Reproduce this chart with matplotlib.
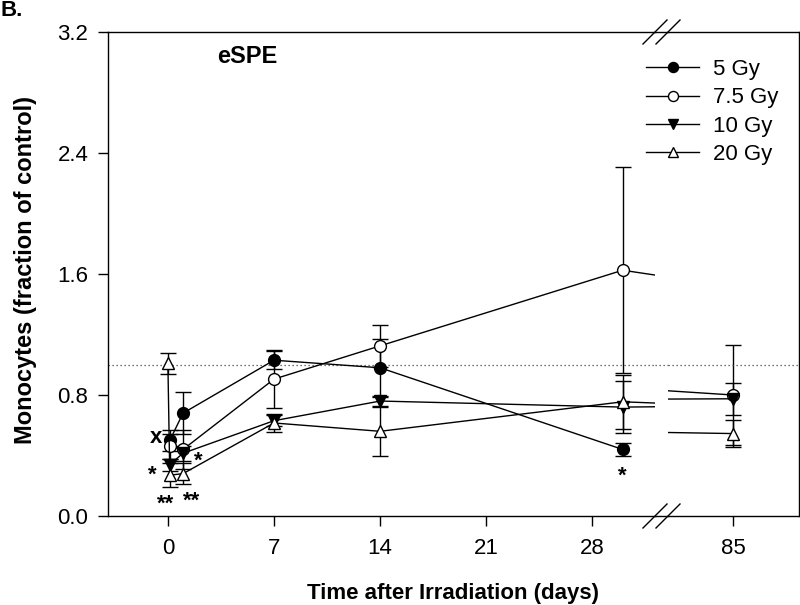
import numpy as np
import matplotlib
matplotlib.use("Agg")
import matplotlib.pyplot as plt
from matplotlib.lines import Line2D

plt.rcParams['font.family'] = ['Liberation Sans', 'DejaVu Sans']

# ---- data ----
days = [0, 0.125, 1, 7, 14, 30, 85]
gy5 = [np.nan, 0.50, 0.68, 1.03, 0.98, 0.44, np.nan]
gy5_err = [np.nan, 0.07, 0.14, 0.058, 0.19, 0.04, np.nan]
gy75 = [np.nan, 0.46, 0.44, 0.905, 1.125, 1.625, 0.80]
gy75_err = [np.nan, 0.08, 0.13, 0.19, 0.14, 0.68, 0.33]
gy10 = [np.nan, 0.34, 0.415, 0.63, 0.76, 0.72, 0.775]
gy10_err = [np.nan, 0.04, 0.05, 0.035, 0.035, 0.17, 0.105]
gy20 = [1.01, 0.27, 0.28, 0.615, 0.56, 0.755, 0.545]
gy20_err = [0.07, 0.08, 0.07, 0.06, 0.16, 0.18, 0.09]

labels = ['5 Gy', '7.5 Gy', '10 Gy', '20 Gy']
xticks_left = [0, 7, 14, 21, 28]
xticks_right = [85]
yticks = [0.0, 0.8, 1.6, 2.4, 3.2]
control_level = 1.0

# annotations: (text, day, value)
annotations = [('x', -0.81, 0.522), ('*', -1.0, 0.27), ('**', -0.15, 0.075),
               ('**', 1.56, 0.10), ('*', 2.0, 0.363), ('*', 30, 0.264)]

series = [
    (gy5, gy5_err, dict(marker='o', mfc='black')),
    (gy75, gy75_err, dict(marker='o', mfc='white')),
    (gy10, gy10_err, dict(marker='v', mfc='black')),
    (gy20, gy20_err, dict(marker='^', mfc='white')),
]

W, H = 800, 605
fig = plt.figure(figsize=(W / 100, H / 100), dpi=100)

def fx(px):
    return px / W

def fy(py):
    return 1 - py / H

L0, L1, R0, R1 = 107.7, 655, 668, 799
T, B = 32, 516
axL = fig.add_axes([fx(L0), fy(B), fx(L1 - L0), (B - T) / H])
axR = fig.add_axes([fx(R0), fy(B), fx(R1 - R0), (B - T) / H], sharey=axL)

handles = []
for ax in (axL, axR):
    for vals, errs, st in series:
        cont = ax.errorbar(days, vals, yerr=errs, color='black', lw=1.0,
                           marker=st['marker'], mfc=st['mfc'], mec='black',
                           mew=1.0, ms=8.5, capsize=5.5, capthick=1.0,
                           elinewidth=1.0)
        if ax is axL:
            handles.append(cont[0])
    ax.axhline(control_level, color='#444444', lw=0.9, ls=(0, (1, 2.2)))
    ax.set_ylim(0, 3.2)
    ax.spines['top'].set_linewidth(1.0)
    ax.spines['bottom'].set_linewidth(1.0)
    ax.tick_params(axis='x', direction='out', length=7, width=1.0,
                   labelsize=16, pad=9)

axL.set_xlim(-3.97, -3.97 + (L1 - L0) / 15.16)
axR.set_xlim(85 - (733 - R0) / 35.0, 85 + (R1 - 733) / 35.0)
axL.set_xticks(xticks_left)
axR.set_xticks(xticks_right)
axL.set_yticks(yticks)
axL.set_yticklabels([f'{v:.1f}' for v in yticks])
axL.tick_params(axis='y', direction='out', length=7, width=1.0,
                labelsize=16, pad=7)
axR.tick_params(axis='y', left=False, labelleft=False)
axL.spines['right'].set_visible(False)
axR.spines['left'].set_visible(False)
axL.spines['left'].set_linewidth(1.0)
axR.spines['right'].set_linewidth(1.0)

# connect frame across the break and dotted line across the gap
for py in (T, B):
    fig.add_artist(Line2D([fx(L1), fx(R0)], [fy(py), fy(py)], color='black', lw=1.0))
fig.add_artist(Line2D([fx(L1), fx(R0)], [fy(B - control_level * (B - T) / 3.2)] * 2,
                      color='#444444', lw=0.9, ls=(0, (1, 2.2))))

# break marks
for py in (T, B):
    for cx in (655, 668):
        fig.add_artist(Line2D([fx(cx - 12), fx(cx + 12)], [fy(py + 12), fy(py - 12)],
                              color='black', lw=1.0))

for txt, d, v in annotations:
    axL.text(d, v, txt, ha='center', va='center', fontsize=16, fontweight='bold')

axL.text(0.255, 0.95, 'eSPE', transform=axL.transAxes, ha='center', va='center',
         fontsize=17, fontweight='bold')

leg = fig.legend(handles, labels, loc='upper left', frameon=False,
                 bbox_to_anchor=(fx(646), fy(59)), bbox_transform=fig.transFigure,
                 fontsize=16, handlelength=2.4, handletextpad=0.6,
                 labelspacing=0.33, borderpad=0, borderaxespad=0, markerscale=0.85)

fig.text(fx(453), fy(593), 'Time after Irradiation (days)', ha='center', va='center',
         fontsize=16, fontweight='bold')
fig.text(fx(26), fy(270), 'Monocytes (fraction of control)', ha='center', va='center',
         rotation=90, fontsize=17, fontweight='bold')
fig.text(fx(0), fy(16), 'B.', ha='left', va='baseline', fontsize=16, fontweight='bold')

fig.savefig('out.png', dpi=100)
